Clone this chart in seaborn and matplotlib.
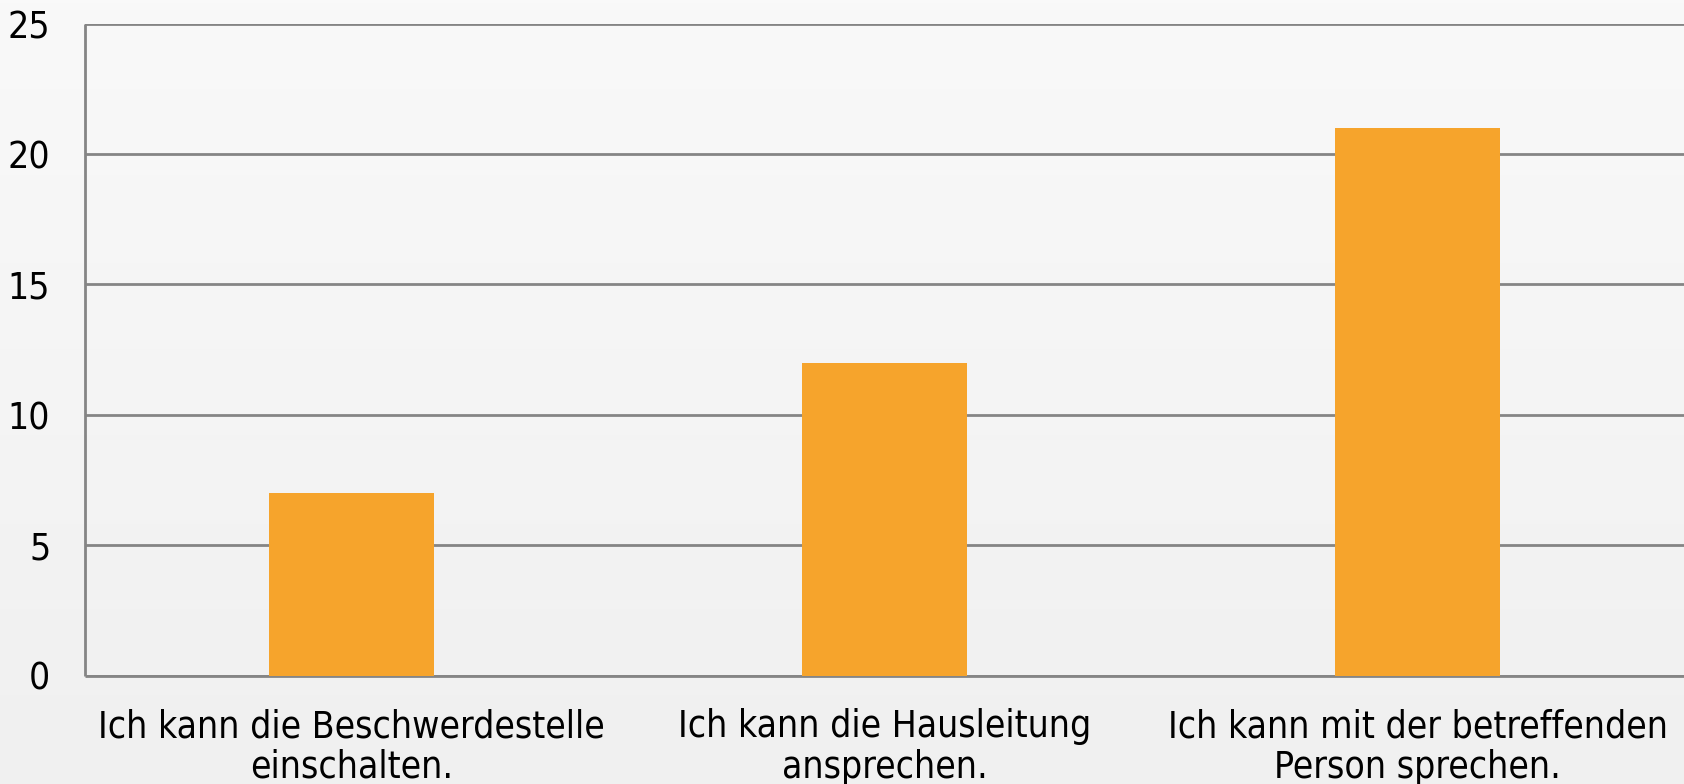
import numpy as np
import pandas as pd
import matplotlib
matplotlib.use("Agg")
import matplotlib.pyplot as plt
import seaborn as sns

categories = ["Ich kann die Beschwerdestelle\neinschalten.",
              "Ich kann die Hausleitung\nansprechen.",
              "Ich kann mit der betreffenden\nPerson sprechen."]
values = [7, 12, 21]
yticks = [0, 5, 10, 15, 20, 25]

sns.set_theme(style="white")
plt.rcParams['font.family'] = ['DejaVu Sans']

fig = plt.figure(figsize=(16.84, 7.84), dpi=100)
# background gradient
bg = fig.add_axes([0, 0, 1, 1], zorder=-10)
grad = np.linspace(0, 1, 256).reshape(-1, 1)
top = np.array([0xf9, 0xf9, 0xf9]) / 255
bot = np.array([0xf0, 0xf0, 0xf0]) / 255
img = top[None, None, :] * (1 - grad[:, :, None]) + bot[None, None, :] * grad[:, :, None]
bg.imshow(img, aspect='auto', extent=[0, 1, 0, 1])
bg.axis('off')

ax = fig.add_axes([85 / 1684, 1 - 675.5 / 784, (1684 - 85) / 1684, (675.5 - 23.6) / 784])
ax.patch.set_alpha(0)
df = pd.DataFrame({"cat": categories, "val": values})
sns.barplot(data=df, x="cat", y="val", color="#F6A42C", width=0.31, saturation=1, ax=ax, zorder=3)
for p in ax.patches:
    p.set_edgecolor("none")

ax.set_xlim(-0.5, 2.5)
ax.set_ylim(0, 25)
ax.set_yticks(yticks)
ax.yaxis.grid(True, color="#858585", linewidth=2, zorder=1)
ax.set_axisbelow(True)
ax.set_xlabel("")
ax.set_ylabel("")
for s in ["top", "right"]:
    ax.spines[s].set_visible(False)
for s in ["left", "bottom"]:
    ax.spines[s].set_color("#858585")
    ax.spines[s].set_linewidth(2)
    ax.spines[s].set_capstyle("butt")
ax.tick_params(axis="both", length=0, labelsize=26.7, colors="black")
ax.tick_params(axis="y", pad=25)
ax.tick_params(axis="x", pad=23.5)
for t in ax.get_xticklabels() + ax.get_yticklabels():
    t.set_fontstretch("condensed")
for t in ax.get_xticklabels():
    t.set_linespacing(1.12)

fig.savefig("out.png", dpi=100)
